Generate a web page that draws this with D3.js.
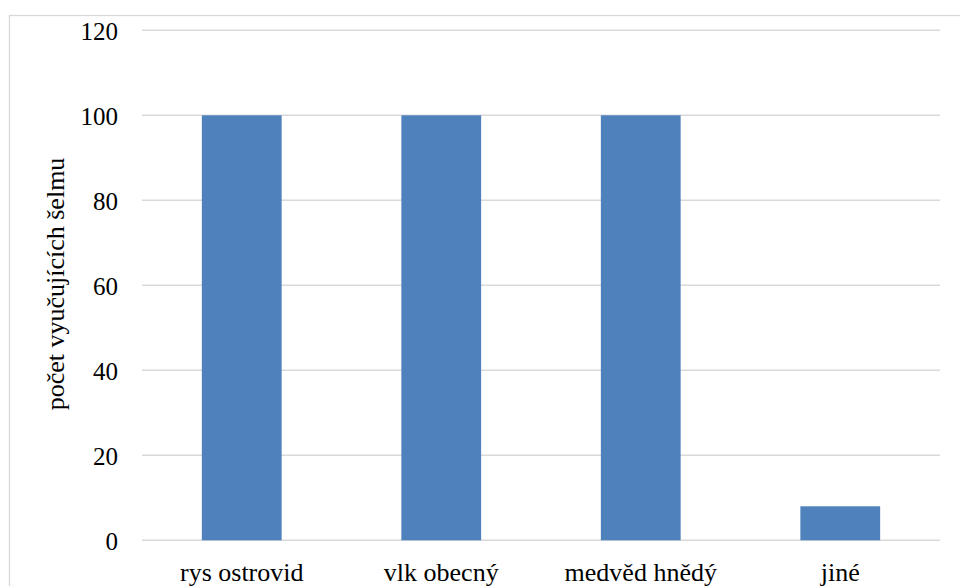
<!DOCTYPE html>
<html><head><meta charset="utf-8">
<script src="https://cdn.jsdelivr.net/npm/d3@7"></script>
<style>
body{margin:0;background:#fff}
svg{display:block}
svg text{font-family:"Liberation Serif","Times New Roman",serif !important;fill:#000}
</style>
</head><body>
<svg id="c" width="960" height="586"></svg>
<script>
const categories = ["rys ostrovid", "vlk obecný", "medvěd hnědý", "jiné"];
const values = [100, 100, 100, 8];
const yTicks = [0, 20, 40, 60, 80, 100, 120];
const yTitle = "počet vyučujících šelmu";

const svg = d3.select("#c");
svg.append("rect").attr("x", 9.5).attr("y", 15.5).attr("width", 960).attr("height", 600)
  .attr("fill", "#fff").attr("stroke", "#d9d9d9").attr("stroke-width", 1.3);

const x = d3.scaleBand().domain(categories).range([142, 940]).paddingInner(0.6).paddingOuter(0.3);
const y = d3.scaleLinear().domain([0, 120]).range([540.3, 30.3]);

const grid = svg.append("g");
grid.selectAll("line").data(yTicks).join("line")
  .attr("x1", 142).attr("x2", 940)
  .attr("y1", d => y(d)).attr("y2", d => y(d))
  .attr("stroke", "#d9d9d9").attr("stroke-width", 1.5);

svg.append("g").selectAll("rect").data(values).join("rect")
  .attr("x", (d, i) => x(categories[i]))
  .attr("width", x.bandwidth())
  .attr("y", d => y(d))
  .attr("height", d => y(0) - y(d))
  .attr("fill", "#4f81bd");

const yAxis = svg.append("g").attr("transform", "translate(142,0)")
  .call(d3.axisLeft(y).tickValues(yTicks).tickSize(0).tickPadding(24));
yAxis.attr("font-family", null).attr("font-size", null);
yAxis.select(".domain").remove();
yAxis.selectAll("text").style("font-size", "25px").attr("dy", "0.35em");

const xAxis = svg.append("g").attr("transform", "translate(0,540.3)")
  .call(d3.axisBottom(x).tickSize(0).tickPadding(0));
xAxis.attr("font-family", null).attr("font-size", null);
xAxis.select(".domain").remove();
xAxis.selectAll("text").style("font-size", "26px").attr("dy", null).attr("y", 41);

svg.append("text").attr("transform", "translate(64,284) rotate(-90)")
  .attr("text-anchor", "middle").style("font-size", "26px").text(yTitle);
</script>
</body></html>
